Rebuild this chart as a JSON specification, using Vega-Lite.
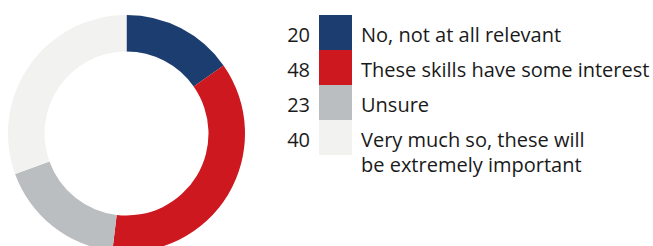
{
  "$schema": "https://vega.github.io/schema/vega-lite/v6.json",
  "padding": 0,
  "spacing": 9,
  "background": "white",
  "config": {"view": {"stroke": null}, "text": {"font": "Open Sans", "fontSize": 20, "color": "#1a1a1a"}},
  "data": {"values": [
    {"o": 1, "label": "No, not at all relevant", "value": 20},
    {"o": 2, "label": "These skills have some interest", "value": 48},
    {"o": 3, "label": "Unsure", "value": 23},
    {"o": 4, "label": "Very much so, these will\nbe extremely important", "value": 40}
  ]},
  "hconcat": [
    {
      "width": 253, "height": 267,
      "mark": {"type": "arc", "outerRadius": 118.5, "innerRadius": 82},
      "encoding": {
        "theta": {"field": "value", "type": "quantitative", "stack": true},
        "order": {"field": "o", "type": "quantitative"},
        "color": {"field": "label", "type": "nominal", "legend": null, "sort": {"field": "o"},
          "scale": {"range": ["#1b3d6f", "#cc181e", "#bbbec1", "#f2f2f1"]}}
      }
    },
    {
      "width": 48, "height": 267,
      "mark": {"type": "text", "align": "right", "baseline": "alphabetic", "dy": 9},
      "encoding": {
        "y": {"field": "label", "type": "nominal", "sort": {"field": "o"}, "axis": null,
          "scale": {"range": [15, 155], "paddingInner": 0, "paddingOuter": 0}},
        "x": {"value": "width"},
        "text": {"field": "value", "type": "quantitative"}
      }
    },
    {
      "width": 33, "height": 267,
      "mark": {"type": "rect"},
      "encoding": {
        "y": {"field": "label", "type": "nominal", "sort": {"field": "o"}, "axis": null,
          "scale": {"range": [15, 155], "paddingInner": 0, "paddingOuter": 0}},
        "color": {"field": "label", "type": "nominal", "legend": null, "sort": {"field": "o"},
          "scale": {"range": ["#1b3d6f", "#cc181e", "#bbbec1", "#f2f2f1"]}}
      }
    },
    {
      "width": 290, "height": 267,
      "mark": {"type": "text", "align": "left", "baseline": "alphabetic", "dy": 9, "lineBreak": "\n", "lineHeight": 25},
      "encoding": {
        "y": {"field": "label", "type": "nominal", "sort": {"field": "o"}, "axis": null,
          "scale": {"range": [15, 155], "paddingInner": 0, "paddingOuter": 0}},
        "x": {"value": 0},
        "text": {"field": "label", "type": "nominal"}
      }
    }
  ]
}
